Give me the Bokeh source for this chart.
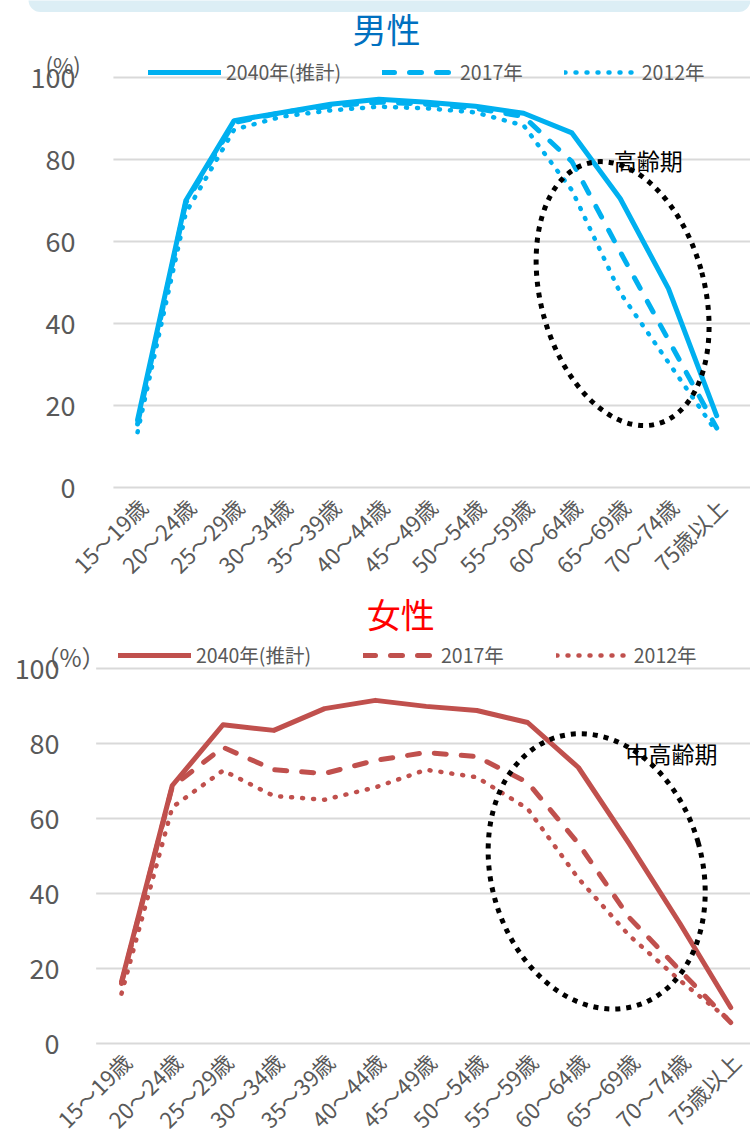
import math
from bokeh.plotting import figure
from bokeh.models import Range1d, Legend, LegendItem, Label, BoxAnnotation
from bokeh.layouts import column
from bokeh.embed import file_html
from bokeh.resources import INLINE
from bokeh.core.properties import value

# ---------------- data ----------------
ages = ["15〜19歳", "20〜24歳", "25〜29歳", "30〜34歳", "35〜39歳", "40〜44歳",
        "45〜49歳", "50〜54歳", "55〜59歳", "60〜64歳", "65〜69歳", "70〜74歳", "75歳以上"]
series_names = ["2040年(推計)", "2017年", "2012年"]

male_2040 = [16.5, 70.0, 89.5, 91.5, 93.5, 94.7, 94.0, 93.0, 91.3, 86.5, 70.5, 48.5, 17.5]
male_2017 = [15.5, 69.5, 89.0, 91.5, 93.0, 94.0, 93.5, 92.5, 90.5, 79.5, 57.5, 36.0, 14.5]
male_2012 = [13.5, 67.0, 87.3, 90.5, 92.0, 92.9, 92.5, 91.5, 88.3, 72.5, 47.5, 30.5, 13.5]

female_2040 = [16.5, 68.8, 85.0, 83.5, 89.3, 91.5, 89.9, 88.8, 85.6, 73.6, 53.3, 32.0, 9.6]
female_2017 = [16.0, 68.5, 79.0, 73.0, 72.0, 75.5, 77.6, 76.5, 69.6, 53.3, 33.6, 19.5, 5.6]
female_2012 = [13.3, 63.0, 72.8, 66.0, 65.0, 68.3, 73.0, 71.0, 62.6, 44.0, 28.8, 16.8, 6.0]

y_ticks = [0, 20, 40, 60, 80, 100]

FONT = "Noto Sans CJK JP"
GREY = "#595959"


def make_chart(title, title_color, color, values, height, x_start, x_end,
               y_start, y_end, ylab_x, xlab_y, legend_loc, legend_spacing,
               pct_text, pct_pos, pct_size, title_pos, note, note_pos, ell, band=None):
    idx = list(range(len(ages)))
    p = figure(width=750, height=height, output_backend="svg", toolbar_location=None,
               x_range=Range1d(x_start, x_end), y_range=Range1d(y_start, y_end),
               x_axis_location=None, y_axis_location=None,
               min_border_left=0, min_border_right=0, min_border_top=0,
               min_border_bottom=0)
    p.outline_line_color = None
    p.background_fill_color = "white"
    p.border_fill_color = "white"
    p.xgrid.grid_line_color = None
    p.ygrid.grid_line_color = None

    if band is not None:
        p.add_layout(BoxAnnotation(left=band[0], right=x_end, bottom=band[1], top=y_end + 5,
                                   fill_color="#DCEEF5", fill_alpha=1, line_color=None,
                                   border_radius=12, level="underlay"))

    # horizontal gridlines and value labels, from the tick list
    p.segment(x0=[-0.5] * len(y_ticks), x1=[x_end] * len(y_ticks), y0=y_ticks, y1=y_ticks,
              line_color="#D9D9D9", line_width=2)
    p.text(x=[ylab_x] * len(y_ticks), y=y_ticks, text=[str(t) for t in y_ticks],
           text_align="right", text_baseline="middle", text_font=value(FONT),
           text_font_size="27px", text_color=GREY)

    # category labels, rotated 45 degrees
    p.text(x=idx, y=[xlab_y] * len(ages), text=ages, angle=math.pi / 4,
           x_offset=5, text_align="right", text_baseline="middle",
           text_font=value(FONT), text_font_size="22px", text_color=GREY)

    v40, v17, v12 = values
    r1 = p.line(idx, v40, line_color=color, line_width=5, line_join="round", line_cap="round")
    r2 = p.line(idx, v17, line_color=color, line_width=5, line_dash="12 15",
                line_join="round", line_cap="round")
    r3 = p.line(idx, v12, line_color=color, line_width=4.5, line_dash="1 10",
                line_join="round", line_cap="round")

    # highlight ellipse
    cx, cy, ew, eh, ea = ell
    p.ellipse(x=[cx], y=[cy], width=ew, height=eh, angle=ea,
              width_units="screen", height_units="screen",
              fill_alpha=0, line_color="black", line_width=5, line_dash="5 6")

    legend = Legend(items=[LegendItem(label=series_names[0], renderers=[r1]),
                           LegendItem(label=series_names[1], renderers=[r2]),
                           LegendItem(label=series_names[2], renderers=[r3])],
                    orientation="horizontal", location=legend_loc,
                    glyph_width=73, glyph_height=20, label_standoff=5,
                    spacing=legend_spacing, padding=0, margin=0,
                    background_fill_alpha=0, border_line_alpha=0,
                    label_text_font=FONT, label_text_font_size="19.5px",
                    label_text_color=GREY)
    p.add_layout(legend)

    p.add_layout(Label(x=title_pos[0], y=title_pos[1], text=title, text_font=FONT,
                       text_font_size="34px", text_color=title_color,
                       text_align="center", text_baseline="middle"))
    p.add_layout(Label(x=pct_pos[0], y=pct_pos[1], text=pct_text, text_font=FONT,
                       text_font_size=pct_size, text_color=GREY,
                       text_align="left", text_baseline="middle"))
    p.add_layout(Label(x=note_pos[0], y=note_pos[1], text=note, text_font=FONT,
                       text_font_size="23px", text_color="black",
                       text_align="left", text_baseline="middle"))
    return p


p1 = make_chart("男性", "#0070C0", "#00B0F0", (male_2040, male_2017, male_2012),
                height=587, x_start=-2.84, x_end=12.70, y_start=-24.39, y_end=118.8,
                ylab_x=-1.285, xlab_y=-3.6, legend_loc=(148, 501), legend_spacing=41,
                pct_text="(%)", pct_pos=(-1.907, 103.4), pct_size="22px",
                title_pos=(5.16, 111.95), note="高齢期", note_pos=(9.865, 80.0),
                ell=(10.05, 47.3, 164, 270, 0.26), band=(-2.26, 116.0))

p2 = make_chart("女性", "#FF0000", "#C0504D", (female_2040, female_2017, female_2012),
                height=558, x_start=-2.384, x_end=12.39, y_start=-27.2, y_end=121.6,
                ylab_x=-1.22, xlab_y=-3.6, legend_loc=(118, 476), legend_spacing=52,
                pct_text="（%）", pct_pos=(-1.695, 103.2), pct_size="24px",
                title_pos=(5.5, 114.7), note="中高齢期", note_pos=(9.93, 77.6),
                ell=(9.36, 45.9, 211, 280, 0.28))

layout = column(p1, p2, spacing=0)
open("out.html", "w").write(file_html(layout, INLINE))
